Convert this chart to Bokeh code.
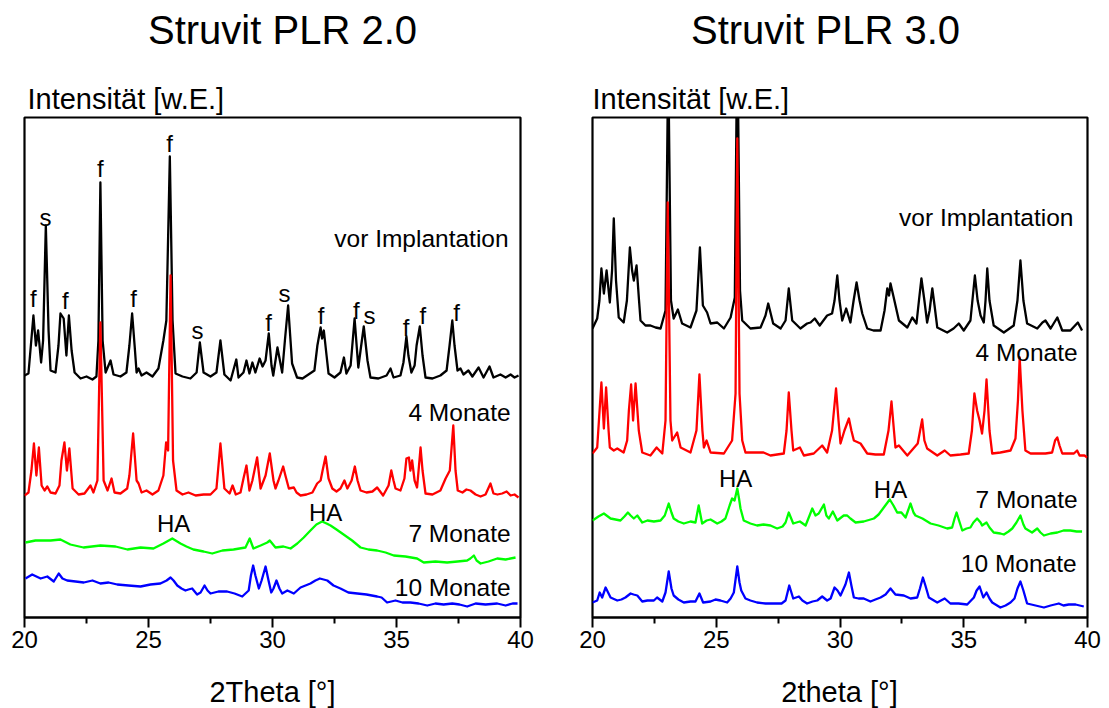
from bokeh.plotting import figure
from bokeh.models import Range1d, Label, FixedTicker
from bokeh.layouts import row, column
from bokeh.embed import file_html
from bokeh.resources import INLINE

FONT = "Liberation Sans"

# ---------------------------------------------------------------
# Diffractograms, Struvit PLR 2.0  (2theta [deg], intensity [a.u.], stacked)
# ---------------------------------------------------------------
plr20_vor = [
    (20.00, 242), (20.16, 244), (20.36, 302), (20.46, 272), (20.55, 287), (20.67, 255),
    (20.75, 277), (20.86, 392), (20.97, 287), (21.05, 247), (21.25, 245), (21.37, 272),
    (21.45, 304), (21.58, 299), (21.69, 262), (21.79, 302), (21.90, 267), (22.02, 245),
    (22.26, 239), (22.50, 241), (22.74, 238), (22.90, 241), (22.98, 277), (23.06, 435),
    (23.15, 277), (23.27, 245), (23.47, 257), (23.59, 243), (23.87, 241), (24.11, 245),
    (24.23, 272), (24.34, 304), (24.44, 272), (24.52, 245), (24.60, 249), (24.72, 242),
    (24.92, 245), (25.16, 241), (25.40, 249), (25.60, 277), (25.72, 297), (25.86, 461),
    (25.97, 297), (26.09, 244), (26.37, 241), (26.69, 239), (26.94, 245), (27.07, 275),
    (27.22, 245), (27.50, 241), (27.74, 245), (27.90, 277), (28.06, 243), (28.31, 237),
    (28.54, 258), (28.63, 240), (28.83, 245), (28.95, 257), (29.07, 244), (29.19, 255),
    (29.31, 245), (29.48, 259), (29.60, 251), (29.72, 257), (29.85, 284), (29.96, 252),
    (30.03, 242), (30.20, 270), (30.39, 245), (30.50, 277), (30.63, 312), (30.79, 254),
    (30.99, 240), (31.21, 239), (31.45, 243), (31.69, 247), (31.81, 272), (31.94, 290),
    (32.00, 279), (32.07, 287), (32.18, 262), (32.26, 244), (32.50, 240), (32.74, 245),
    (32.88, 260), (32.98, 244), (33.15, 252), (33.31, 299), (33.46, 250), (33.55, 267),
    (33.68, 291), (33.83, 257), (33.95, 240), (34.27, 239), (34.60, 242), (34.76, 249),
    (34.88, 240), (35.16, 242), (35.28, 255), (35.40, 281), (35.48, 262), (35.60, 245),
    (35.73, 252), (35.81, 272), (35.94, 291), (36.05, 262), (36.17, 240), (36.45, 239),
    (36.77, 242), (37.02, 247), (37.14, 272), (37.25, 297), (37.34, 272), (37.46, 247),
    (37.58, 249), (37.70, 243), (37.90, 247), (38.06, 241), (38.31, 250), (38.51, 240),
    (38.75, 251), (38.91, 240), (39.19, 243), (39.40, 240), (39.60, 243), (39.76, 240),
    (39.92, 242),
]

plr20_4m = [
    (20.00, 122), (20.16, 125), (20.28, 147), (20.38, 174), (20.48, 142), (20.58, 170),
    (20.69, 132), (20.81, 127), (20.92, 131), (21.05, 125), (21.25, 124), (21.41, 132),
    (21.49, 157), (21.61, 175), (21.71, 147), (21.81, 169), (21.94, 129), (22.18, 123),
    (22.42, 124), (22.66, 132), (22.78, 125), (22.94, 137), (23.06, 295), (23.19, 137),
    (23.35, 127), (23.51, 139), (23.63, 125), (23.87, 124), (24.14, 129), (24.23, 142),
    (24.38, 184), (24.52, 137), (24.60, 134), (24.72, 125), (24.92, 127), (25.16, 123),
    (25.40, 127), (25.60, 142), (25.71, 175), (25.79, 167), (25.89, 342), (25.99, 157),
    (26.13, 127), (26.37, 123), (26.61, 125), (26.90, 122), (27.22, 123), (27.50, 123),
    (27.74, 129), (27.90, 174), (28.06, 129), (28.27, 124), (28.39, 132), (28.52, 123),
    (28.71, 125), (28.83, 139), (28.95, 152), (29.07, 127), (29.19, 137), (29.38, 160),
    (29.52, 129), (29.72, 142), (29.89, 164), (30.04, 137), (30.12, 129), (30.24, 137),
    (30.43, 151), (30.52, 142), (30.66, 129), (30.86, 130), (30.97, 125), (31.13, 122),
    (31.37, 123), (31.61, 125), (31.80, 134), (31.94, 137), (32.02, 147), (32.14, 161),
    (32.26, 139), (32.41, 129), (32.58, 126), (32.74, 129), (32.90, 137), (33.02, 129),
    (33.19, 137), (33.32, 151), (33.43, 137), (33.55, 127), (33.79, 125), (34.03, 126),
    (34.22, 130), (34.46, 122), (34.68, 132), (34.79, 147), (34.88, 137), (34.96, 129),
    (35.16, 127), (35.32, 139), (35.40, 159), (35.50, 160), (35.56, 147), (35.63, 157),
    (35.73, 137), (35.83, 130), (35.89, 147), (35.97, 170), (36.05, 147), (36.17, 124),
    (36.45, 123), (36.77, 127), (36.98, 139), (37.15, 147), (37.29, 192), (37.38, 147),
    (37.47, 127), (37.66, 125), (37.82, 128), (37.98, 127), (38.19, 123), (38.39, 121),
    (38.59, 123), (38.79, 134), (38.91, 124), (39.07, 123), (39.26, 124), (39.44, 126),
    (39.60, 122), (39.76, 123), (39.92, 120),
]

plr20_7m = [
    (20.04, 75), (20.44, 77), (21.05, 77), (21.45, 78), (21.85, 73), (22.38, 70),
    (23.06, 72), (23.67, 71), (24.15, 68), (24.68, 70), (25.20, 69), (25.60, 74),
    (25.96, 79), (26.29, 74), (26.53, 71), (26.81, 68), (27.22, 66), (27.57, 64),
    (27.98, 67), (28.43, 68), (28.91, 70), (29.08, 79), (29.23, 69), (29.52, 72),
    (29.79, 75), (29.89, 77), (30.12, 70), (30.44, 71), (30.73, 69), (31.00, 74),
    (31.26, 80), (31.53, 87), (31.77, 93), (32.00, 96), (32.18, 94), (32.34, 92),
    (32.58, 88), (32.81, 84), (33.21, 77), (33.55, 70), (33.87, 68), (34.22, 67),
    (34.56, 65), (34.89, 62), (35.36, 61), (35.83, 59), (36.10, 55), (36.57, 56),
    (37.04, 55), (37.46, 56), (37.85, 57), (37.98, 59), (38.12, 62), (38.23, 57),
    (38.39, 54), (38.71, 56), (39.06, 59), (39.40, 58), (39.80, 60),
]

plr20_10m = [
    (20.04, 39), (20.31, 43), (20.48, 41), (20.65, 39), (20.92, 41), (21.18, 36),
    (21.38, 44), (21.53, 39), (21.72, 37), (22.06, 36), (22.39, 35), (22.74, 37),
    (23.06, 34), (23.39, 35), (23.74, 33), (24.19, 32), (24.68, 31), (25.08, 33),
    (25.48, 34), (25.73, 37), (25.89, 40), (26.01, 37), (26.16, 32), (26.33, 29),
    (26.49, 27), (26.61, 28), (26.76, 29), (26.96, 23), (27.10, 25), (27.26, 32),
    (27.38, 27), (27.50, 24), (27.82, 26), (28.17, 26), (28.47, 24), (28.78, 21),
    (29.04, 27), (29.13, 42), (29.22, 52), (29.31, 42), (29.45, 29), (29.56, 37),
    (29.72, 51), (29.84, 37), (29.95, 25), (30.04, 29), (30.16, 37), (30.28, 29),
    (30.39, 24), (30.60, 27), (30.86, 24), (31.13, 30), (31.33, 32), (31.53, 34),
    (31.73, 37), (31.91, 39), (32.06, 38), (32.21, 37), (32.46, 32), (32.74, 29),
    (33.06, 25), (33.42, 24), (33.79, 23), (34.22, 21), (34.40, 20), (34.62, 15),
    (34.96, 17), (35.24, 15), (35.56, 15), (35.89, 14), (36.24, 12), (36.57, 14),
    (36.90, 13), (37.25, 14), (37.54, 13), (37.85, 11), (38.19, 14), (38.59, 13),
    (39.06, 14), (39.40, 12), (39.68, 14), (39.88, 14),
]

# ---------------------------------------------------------------
# Diffractograms, Struvit PLR 3.0
# ---------------------------------------------------------------
plr30_vor = [
    (20.00, 289), (20.19, 299), (20.28, 317), (20.36, 349), (20.46, 324), (20.57, 347),
    (20.70, 315), (20.79, 347), (20.86, 399), (20.95, 337), (21.06, 300), (21.26, 295),
    (21.39, 317), (21.51, 370), (21.60, 347), (21.67, 337), (21.78, 352), (21.88, 317),
    (21.94, 297), (22.14, 292), (22.34, 292), (22.55, 290), (22.75, 289), (22.95, 307),
    (23.06, 560), (23.17, 317), (23.28, 299), (23.45, 308), (23.62, 294), (23.96, 290),
    (24.20, 307), (24.34, 370), (24.46, 312), (24.63, 305), (24.77, 294), (25.04, 295),
    (25.31, 289), (25.58, 300), (25.75, 320), (25.85, 590), (25.96, 327), (26.05, 297),
    (26.38, 289), (26.79, 290), (26.99, 302), (27.10, 314), (27.30, 294), (27.60, 289),
    (27.80, 297), (27.93, 329), (28.07, 297), (28.40, 289), (28.67, 294), (28.81, 295),
    (28.98, 299), (29.18, 292), (29.48, 302), (29.68, 304), (29.78, 317), (29.89, 342),
    (29.98, 317), (30.09, 297), (30.25, 309), (30.42, 295), (30.55, 317), (30.67, 335),
    (30.79, 317), (30.90, 304), (31.10, 289), (31.35, 287), (31.64, 287), (31.80, 307),
    (31.91, 329), (31.98, 322), (32.04, 334), (32.17, 320), (32.38, 297), (32.72, 290),
    (32.92, 300), (33.09, 294), (33.19, 317), (33.29, 339), (33.41, 317), (33.52, 295),
    (33.62, 307), (33.73, 329), (33.82, 312), (33.93, 290), (34.33, 285), (34.59, 289),
    (34.80, 294), (35.00, 287), (35.27, 297), (35.35, 317), (35.45, 342), (35.56, 317),
    (35.68, 302), (35.81, 295), (35.88, 317), (35.95, 349), (36.04, 317), (36.21, 292),
    (36.62, 285), (37.02, 292), (37.17, 317), (37.29, 357), (37.41, 317), (37.56, 294),
    (37.97, 289), (38.18, 295), (38.30, 297), (38.51, 289), (38.78, 300), (38.98, 287),
    (39.31, 287), (39.61, 295), (39.78, 287),
]

plr30_4m = [
    (20.00, 164), (20.19, 170), (20.26, 197), (20.36, 235), (20.46, 189), (20.55, 230),
    (20.65, 187), (20.70, 170), (20.86, 167), (21.00, 169), (21.26, 165), (21.40, 177),
    (21.47, 207), (21.56, 233), (21.64, 197), (21.74, 234), (21.87, 187), (22.01, 165),
    (22.34, 162), (22.59, 170), (22.82, 164), (22.95, 197), (23.04, 415), (23.15, 197),
    (23.22, 177), (23.42, 185), (23.56, 170), (23.96, 165), (24.20, 187), (24.32, 243),
    (24.44, 187), (24.50, 170), (24.61, 177), (24.77, 165), (25.31, 164), (25.64, 177),
    (25.78, 224), (25.85, 479), (25.94, 224), (26.05, 177), (26.18, 165), (26.59, 165),
    (26.91, 165), (27.19, 162), (27.73, 164), (27.84, 187), (27.93, 225), (28.04, 187),
    (28.11, 167), (28.38, 170), (28.54, 162), (28.94, 164), (29.28, 172), (29.48, 165),
    (29.68, 187), (29.84, 229), (29.94, 197), (30.02, 174), (30.18, 187), (30.36, 199),
    (30.46, 187), (30.56, 177), (30.83, 174), (31.10, 164), (31.43, 163), (31.77, 163),
    (31.96, 187), (32.08, 216), (32.18, 187), (32.24, 170), (32.38, 172), (32.72, 162),
    (33.14, 174), (33.32, 198), (33.41, 177), (33.52, 169), (33.93, 162), (34.23, 167),
    (34.46, 162), (34.87, 163), (35.20, 164), (35.33, 187), (35.43, 224), (35.54, 207),
    (35.64, 197), (35.74, 184), (35.84, 207), (35.92, 238), (36.04, 187), (36.15, 164),
    (36.48, 165), (36.89, 167), (37.09, 179), (37.19, 217), (37.26, 260), (37.37, 207),
    (37.49, 167), (37.70, 164), (37.97, 164), (38.30, 164), (38.57, 165), (38.69, 177),
    (38.78, 180), (38.87, 172), (38.98, 164), (39.23, 164), (39.45, 164), (39.58, 167),
    (39.68, 162), (39.88, 162), (39.99, 160),
]

plr30_7m = [
    (20.00, 97), (20.24, 101), (20.46, 104), (20.73, 99), (20.93, 98), (21.13, 97),
    (21.29, 101), (21.43, 105), (21.54, 102), (21.67, 99), (21.81, 102), (22.01, 95),
    (22.22, 97), (22.48, 96), (22.75, 97), (22.92, 102), (23.08, 114), (23.19, 105),
    (23.28, 99), (23.47, 96), (23.69, 94), (23.96, 96), (24.16, 95), (24.29, 112),
    (24.43, 94), (24.61, 97), (24.77, 98), (25.04, 94), (25.21, 96), (25.37, 99),
    (25.54, 112), (25.64, 119), (25.74, 117), (25.85, 129), (25.92, 119), (25.98, 109),
    (26.11, 97), (26.38, 94), (26.65, 92), (26.91, 93), (27.19, 92), (27.46, 89),
    (27.68, 91), (27.80, 95), (27.93, 105), (28.11, 94), (28.24, 95), (28.38, 96),
    (28.61, 92), (28.77, 102), (28.88, 109), (29.01, 102), (29.14, 104), (29.35, 113),
    (29.45, 102), (29.55, 99), (29.71, 106), (29.89, 97), (30.15, 102), (30.29, 102),
    (30.42, 99), (30.63, 95), (30.96, 96), (31.37, 99), (31.56, 103), (31.77, 110),
    (32.01, 118), (32.16, 112), (32.31, 105), (32.48, 105), (32.65, 100), (32.75, 107),
    (32.85, 114), (32.97, 105), (33.05, 102), (33.33, 99), (33.66, 94), (33.98, 92),
    (34.33, 89), (34.53, 90), (34.63, 99), (34.71, 105), (34.81, 97), (34.94, 87),
    (35.11, 89), (35.27, 90), (35.39, 95), (35.54, 99), (35.68, 95), (35.74, 92),
    (35.92, 95), (36.04, 90), (36.21, 85), (36.48, 84), (36.62, 83), (36.81, 86),
    (36.96, 89), (37.13, 95), (37.29, 102), (37.41, 93), (37.49, 89), (37.76, 85),
    (37.97, 89), (38.10, 85), (38.24, 82), (38.51, 84), (38.78, 85), (39.03, 87),
    (39.31, 87), (39.56, 86), (39.78, 86),
]

plr30_10m = [
    (20.00, 15), (20.19, 17), (20.29, 25), (20.39, 20), (20.53, 30), (20.65, 24),
    (20.73, 20), (21.00, 17), (21.17, 18), (21.33, 20), (21.54, 24), (21.66, 23),
    (21.81, 22), (22.01, 16), (22.22, 17), (22.48, 17), (22.61, 20), (22.82, 16),
    (22.95, 25), (23.08, 46), (23.19, 29), (23.28, 22), (23.47, 18), (23.69, 15),
    (23.96, 16), (24.16, 16), (24.32, 24), (24.47, 15), (24.77, 16), (24.97, 18),
    (25.17, 17), (25.44, 15), (25.58, 19), (25.71, 25), (25.85, 51), (25.94, 35),
    (26.01, 27), (26.18, 19), (26.38, 17), (26.65, 15), (26.99, 14), (27.46, 14),
    (27.64, 14), (27.80, 17), (27.95, 32), (28.11, 19), (28.34, 21), (28.48, 17),
    (28.67, 14), (28.89, 16), (29.08, 17), (29.28, 21), (29.48, 17), (29.62, 19),
    (29.78, 30), (29.90, 27), (30.02, 22), (30.22, 33), (30.36, 45), (30.46, 32),
    (30.56, 20), (30.75, 19), (30.96, 19), (31.23, 16), (31.43, 18), (31.64, 20),
    (31.84, 23), (32.04, 29), (32.24, 23), (32.58, 22), (32.85, 19), (33.12, 20),
    (33.23, 29), (33.35, 40), (33.45, 32), (33.59, 20), (33.93, 15), (34.23, 19),
    (34.46, 14), (34.79, 14), (35.14, 13), (35.41, 20), (35.52, 27), (35.64, 31),
    (35.79, 20), (35.92, 25), (36.04, 19), (36.15, 15), (36.48, 10), (36.69, 12),
    (36.89, 15), (37.05, 19), (37.17, 29), (37.29, 36), (37.41, 27), (37.56, 14),
    (37.90, 12), (38.24, 10), (38.51, 12), (38.84, 14), (39.03, 12), (39.24, 13),
    (39.52, 13), (39.85, 11),
]

# Phase markers (f, s) above the reference pattern of PLR 2.0
plr20_markers = [
    (20.36, 319, "f"), (20.85, 400, "s"), (21.65, 317, "f"), (23.06, 449, "f"),
    (24.40, 319, "f"), (25.85, 474, "f"), (26.98, 287, "s"), (29.84, 295, "f"),
    (30.48, 324, "s"), (31.96, 302, "f"), (33.38, 307, "f"), (33.91, 302, "s"),
    (35.39, 290, "f"), (36.06, 302, "f"), (37.42, 305, "f"),
]
plr20_ha = [(26.01, 94, "HA"), (32.14, 105, "HA")]
plr30_ha = [(25.78, 139, "HA"), (32.04, 128, "HA")]

series_names = ["vor Implantation", "4 Monate", "7 Monate", "10 Monate"]
series_colors = ["#000000", "#ff0000", "#00ff00", "#0000ff"]

# curve captions: right edge x, centre y
plr20_captions = [(39.52, 379), (39.60, 205), (39.60, 84), (39.60, 30)]
plr30_captions = [(39.43, 400), (39.60, 265), (39.60, 118), (39.56, 54)]

PAGE_W = 1109
HEAD_H = 115      # strip holding panel titles and the intensity caption
PLOT_H = 545      # frame (500 px) plus tick area
FOOT_H = 48       # strip holding the 2theta captions


def add_text(p, x, y, text, size, align="center"):
    p.add_layout(Label(x=x, y=y, text=text, text_font=FONT,
                       text_font_size=f"{size}px", text_align=align,
                       text_baseline="middle", text_color="black"))


def text_strip(height):
    s = figure(width=PAGE_W, height=height, output_backend="svg",
               toolbar_location=None, title=None,
               x_axis_location=None, y_axis_location=None,
               x_range=Range1d(0, PAGE_W), y_range=Range1d(0, height),
               min_border=0)
    s.outline_line_color = None
    s.xgrid.visible = False
    s.ygrid.visible = False
    s.background_fill_color = "white"
    s.border_fill_color = "white"
    return s


def make_panel(width, border_left, border_right, patterns, captions, markers):
    p = figure(width=width, height=PLOT_H, output_backend="svg",
               toolbar_location=None, title=None, y_axis_location=None,
               x_range=Range1d(20, 40), y_range=Range1d(0, 500),
               min_border_left=border_left, min_border_right=border_right,
               min_border_top=2, min_border_bottom=PLOT_H - 502)
    p.xgrid.visible = False
    p.ygrid.visible = False
    p.outline_line_color = "black"
    p.outline_line_width = 2.2
    p.outline_line_alpha = 1.0
    p.background_fill_color = "white"
    p.border_fill_color = "white"

    ax = p.xaxis[0]
    ax.ticker = FixedTicker(ticks=[20, 25, 30, 35, 40],
                            minor_ticks=[22.5, 27.5, 32.5, 37.5])
    ax.axis_line_width = 2.2
    ax.major_tick_line_width = 2
    ax.minor_tick_line_width = 2
    ax.major_tick_in = 0
    ax.major_tick_out = 10
    ax.minor_tick_in = 0
    ax.minor_tick_out = 6
    ax.major_label_standoff = 3
    ax.major_label_text_font = FONT
    ax.major_label_text_font_size = "24px"
    ax.major_label_text_color = "black"

    for pts, color in zip(patterns, series_colors):
        xs = [a for a, _ in pts]
        ys = [b for _, b in pts]
        p.line(xs, ys, line_color=color, line_width=2.3, line_join="round")

    for (cx, cy), name in zip(captions, series_names):
        add_text(p, cx, cy, name, 24.5, align="right")
    for mx, my, t in markers:
        add_text(p, mx, my, t, 24)
    return p


# header: panel titles and the intensity caption above each frame
head = text_strip(HEAD_H)
add_text(head, 282, HEAD_H - 29.5, "Struvit PLR 2.0", 40)
add_text(head, 825, HEAD_H - 29.5, "Struvit PLR 3.0", 40)
add_text(head, 27, HEAD_H - 98.5, "Intensität [w.E.]", 29, align="left")
add_text(head, 592, HEAD_H - 98.5, "Intensität [w.E.]", 29, align="left")

left = make_panel(556, 24, 36,
                  [plr20_vor, plr20_4m, plr20_7m, plr20_10m],
                  plr20_captions, plr20_markers + plr20_ha)
right = make_panel(553, 36, 22,
                   [plr30_vor, plr30_4m, plr30_7m, plr30_10m],
                   plr30_captions, plr30_ha)

# footer: x-axis captions centred under each frame
foot = text_strip(FOOT_H)
add_text(foot, 272, 708 - 691.5, "2Theta [°]", 29)
add_text(foot, 839, 708 - 691.5, "2theta [°]", 29)

layout = column(head, row(left, right), foot)
open("out.html", "w").write(file_html(layout, INLINE))
